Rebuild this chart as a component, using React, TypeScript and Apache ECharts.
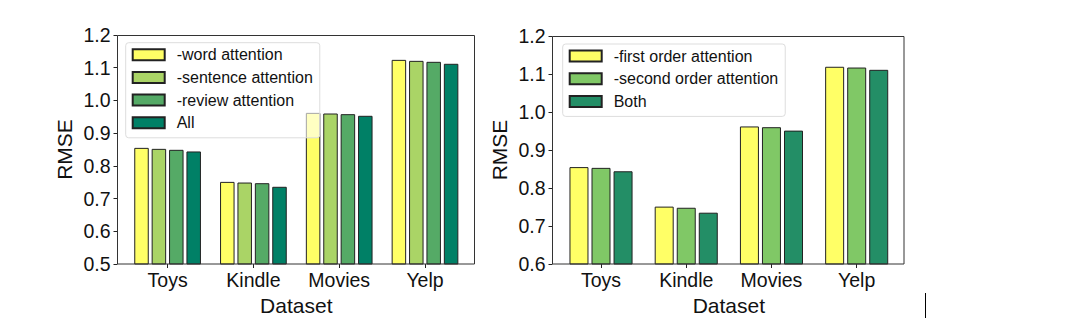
import React, { useEffect, useRef } from "react";
import * as echarts from "echarts";

const categories = ["Toys", "Kindle", "Movies", "Yelp"];

const leftNames = ["-word attention", "-sentence attention", "-review attention", "All"];
const leftWord = [0.855, 0.751, 0.962, 1.124];
const leftSentence = [0.852, 0.749, 0.960, 1.121];
const leftReview = [0.849, 0.747, 0.958, 1.118];
const leftAll = [0.844, 0.736, 0.953, 1.112];
const leftColors = ["#FFFF66", "#AAD466", "#55AA66", "#008066"];

const rightNames = ["-first order attention", "-second order attention", "Both"];
const rightFirst = [0.855, 0.751, 0.962, 1.119];
const rightSecond = [0.853, 0.748, 0.960, 1.117];
const rightBoth = [0.844, 0.735, 0.951, 1.111];
const rightColors = ["#FFFF66", "#80C866", "#238E66"];

const leftTicks = { min: 0.5, max: 1.2, interval: 0.1 };
const rightTicks = { min: 0.6, max: 1.2, interval: 0.1 };

const FONT = "'Liberation Sans', Arial, sans-serif";

export default function App() {
  const ref = useRef<HTMLDivElement>(null);
  useEffect(() => {
    if (!ref.current) return;
    const chart = echarts.init(ref.current, undefined, { renderer: "svg" });
    const leftData = [leftWord, leftSentence, leftReview, leftAll];
    const rightData = [rightFirst, rightSecond, rightBoth];

    const xAxisCommon = (gridIndex: number) => ({
      type: "category",
      gridIndex,
      data: categories,
      axisLine: { show: false },
      axisTick: { show: true, alignWithLabel: true, length: 4, lineStyle: { color: "#222" } },
      axisLabel: { fontSize: 19.5, color: "#111", fontFamily: FONT, margin: 6 },
      name: "Dataset",
      nameLocation: "middle",
      nameGap: 25,
      nameTextStyle: { fontSize: 21, color: "#111", fontFamily: FONT },
    });
    const yAxisCommon = (gridIndex: number, t: any, offset: number, nameGap: number) => ({
      type: "value",
      gridIndex,
      min: t.min,
      max: t.max,
      interval: t.interval,
      offset,
      axisLine: { show: false },
      axisTick: { show: true, length: 4, lineStyle: { color: "#222" } },
      splitLine: { show: false },
      axisLabel: {
        fontSize: 19.5,
        color: "#111",
        fontFamily: FONT,
        margin: 7,
        formatter: (v: number) => v.toFixed(1),
      },
      name: "RMSE",
      nameLocation: "middle",
      nameGap,
      nameTextStyle: { fontSize: 21, color: "#111", fontFamily: FONT },
    });

    const series: any[] = [];
    leftNames.forEach((n, i) =>
      series.push({
        type: "bar",
        name: n,
        xAxisIndex: 0,
        yAxisIndex: 0,
        data: leftData[i],
        barWidth: 14.5,
        barGap: "20%",
        itemStyle: { color: leftColors[i], borderColor: "#222", borderWidth: 1 },
      })
    );
    rightNames.forEach((n, i) =>
      series.push({
        type: "bar",
        name: n,
        xAxisIndex: 1,
        yAxisIndex: 1,
        data: rightData[i],
        barWidth: 19,
        barGap: "16%",
        itemStyle: { color: rightColors[i], borderColor: "#222", borderWidth: 1 },
      })
    );

    const legendCommon = {
      orient: "vertical",
      icon: "rect",
      itemWidth: 32,
      itemHeight: 11,
      itemGap: 6.7,
      selectedMode: false,
      backgroundColor: "rgba(255,255,255,0.6)",
      borderColor: "#dddddd",
      borderWidth: 1,
      borderRadius: 3,
      padding: [4, 7, 7, 6],
      textStyle: { fontSize: 16, lineHeight: 16, color: "#111", fontFamily: FONT, padding: [0, 0, 0, 7] },
    };

    chart.setOption({
      animation: false,
      backgroundColor: "#ffffff",
      grid: [
        { left: 124.7, top: 35, width: 343.2, height: 229 },
        { left: 558.4, top: 36, width: 340.9, height: 228 },
      ],
      xAxis: [xAxisCommon(0), xAxisCommon(1)],
      yAxis: [yAxisCommon(0, leftTicks, 7.2, 43), yAxisCommon(1, rightTicks, 5.9, 43)],
      legend: [
        { ...legendCommon, data: leftNames, left: 125.7, top: 42.7 },
        { ...legendCommon, data: rightNames, left: 562.7, top: 44 },
      ],
      graphic: [
        {
          type: "rect",
          shape: { x: 117.5, y: 35.5, width: 357, height: 228.5 },
          style: { fill: "none", stroke: "#333", lineWidth: 1 },
          z: 3,
          silent: true,
        },
        {
          type: "rect",
          shape: { x: 552.5, y: 36.5, width: 351.5, height: 227.5 },
          style: { fill: "none", stroke: "#333", lineWidth: 1 },
          z: 3,
          silent: true,
        },
        {
          type: "line",
          shape: { x1: 925.5, y1: 293, x2: 925.5, y2: 318 },
          style: { stroke: "#000", lineWidth: 1 },
          silent: true,
        },
      ],
      series,
    });
    return () => chart.dispose();
  }, []);
  return (
    <div
      ref={ref}
      style={{ position: "fixed", left: 0, top: 0, width: 1069, height: 330, background: "#fff" }}
    />
  );
}
